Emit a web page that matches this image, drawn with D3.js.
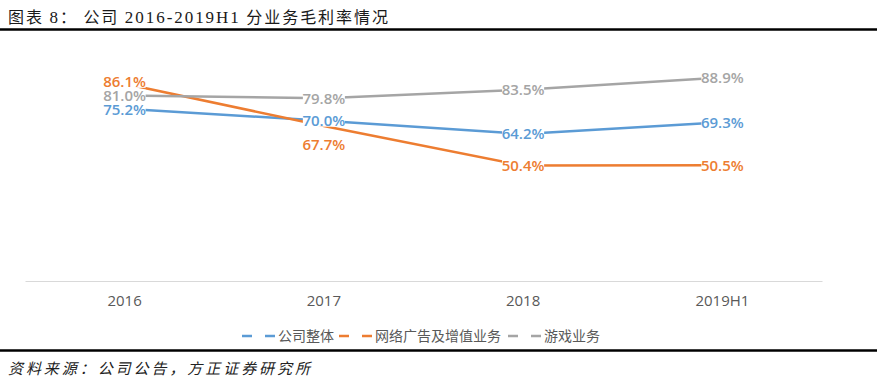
<!DOCTYPE html>
<html><head><meta charset="utf-8">
<script src="https://cdn.jsdelivr.net/npm/d3@7/dist/d3.min.js"></script>
<style>
html,body{margin:0;padding:0;background:#fff;}
svg{display:block;}
</style></head>
<body>
<svg id="c" width="879" height="388"></svg>
<script>
const categories = ["2016", "2017", "2018", "2019H1"];
const seriesNames = ["公司整体", "网络广告及增值业务", "游戏业务"];
const overall = [75.2, 70.0, 64.2, 69.3];
const adsVas = [86.1, 67.7, 50.4, 50.5];
const games = [81.0, 79.8, 83.5, 88.9];
const colors = ["#5B9BD5", "#ED7D31", "#A5A5A5"];
const labelShift = [[1,0,0,0],[-2,19,0,0],[0,0,0,0]];

const svg = d3.select("#c");

// title
const title = svg.append("text").attr("x", 8).attr("y", 23)
  .attr("font-size", 16).attr("fill", "#1a1a1a")
  .attr("font-family", "'Noto Sans CJK SC', sans-serif")
  .attr("textLength", 380).attr("lengthAdjust", "spacing");
title.append("tspan").text("图表 ");
title.append("tspan").attr("font-family", "'Liberation Serif', serif").attr("font-size", 17).text("8");
title.append("tspan").text("： 公司 ");
title.append("tspan").attr("font-family", "'Liberation Serif', serif").attr("font-size", 17).text("2016-2019H1");
title.append("tspan").text(" 分业务毛利率情况");

svg.append("line").attr("x1", 0).attr("x2", 877).attr("y1", 29.5).attr("y2", 29.5)
  .attr("stroke", "#000").attr("stroke-width", 2.5);
svg.append("line").attr("x1", 0).attr("x2", 877).attr("y1", 350.5).attr("y2", 350.5)
  .attr("stroke", "#000").attr("stroke-width", 2.5);

svg.append("text").attr("x", 8).attr("y", 374)
  .attr("font-size", 15).attr("font-style", "italic").attr("fill", "#222")
  .attr("font-family", "'Noto Sans CJK SC', sans-serif")
  .attr("textLength", 302).attr("lengthAdjust", "spacing")
  .text("资料来源：公司公告，方正证券研究所");

// scales
const x = d3.scaleBand().domain(categories).range([25, 822]);
const y = d3.scaleLinear().domain([0, 100]).range([281, 52]);
const cx = d => x(d) + x.bandwidth() / 2;

// axis
const xAxis = d3.axisBottom(x).tickSize(0).tickPadding(14);
const ax = svg.append("g").attr("transform", "translate(0,281)").call(xAxis);
ax.select(".domain").attr("stroke", "#D9D9D9").attr("stroke-width", 1.2);
ax.selectAll("text").attr("font-size", 15).attr("fill", "#595959")
  .attr("font-family", "'Open Sans', sans-serif");

const data = [overall, adsVas, games];
const line = d3.line().x((d, i) => cx(categories[i])).y(d => y(d));

data.forEach((s, k) => {
  svg.append("path").datum(s).attr("d", line).attr("fill", "none")
    .attr("stroke", colors[k]).attr("stroke-width", 2.5).attr("stroke-linejoin", "round");
});

[1, 2, 0].forEach(k => {
  const g = svg.append("g");
  data[k].forEach((v, i) => {
    const px = cx(categories[i]);
    const py = y(v) + labelShift[k][i];
    const txt = v.toFixed(1) + "%";
    g.append("rect").attr("x", px - 21).attr("y", py - 6).attr("width", 42).attr("height", 12).attr("fill", "#fff");
    g.append("text").attr("x", px).attr("y", py + 5.5).attr("text-anchor", "middle")
      .attr("font-size", 15).attr("font-weight", 600).attr("fill", colors[k])
      .attr("font-family", "'Open Sans', sans-serif").text(txt);
  });
});

// legend
const legX = [242, 339, 508];
const leg = svg.append("g");
seriesNames.forEach((n, k) => {
  leg.append("line").attr("x1", legX[k]).attr("x2", legX[k] + 33).attr("y1", 336).attr("y2", 336)
    .attr("stroke", colors[k]).attr("stroke-width", 2.5).attr("stroke-dasharray", "10,13");
  leg.append("text").attr("x", legX[k] + 36).attr("y", 341).attr("font-size", 14)
    .attr("fill", "#595959").attr("font-family", "'Noto Sans CJK SC', sans-serif").text(n);
});
</script>
</body></html>
